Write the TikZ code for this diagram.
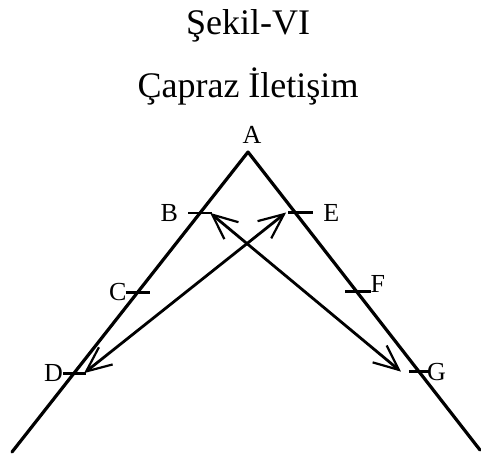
\documentclass[tikz,border=0pt]{standalone}
\usepackage{fontspec}
\setmainfont{Liberation Serif}
\usetikzlibrary{arrows.meta,positioning,calc}
\begin{document}
\begin{tikzpicture}[line cap=round,line join=round,x=1pt,y=-1pt,
		side/.style={line width=3.2pt},
		tick/.style={line width=2.8pt,line cap=butt},
		barb/.tip={Straight Barb[length=25pt,width=22pt,line width=2.2pt]},
		msg/.style={line width=2.8pt,barb-barb},
		lbl/.style={inner sep=0pt,font=\fontsize{26}{28}\selectfont},
		head/.style={inner sep=0pt,anchor=base,font=\fontsize{36}{40}\selectfont}]
		\useasboundingbox (0,0) rectangle (481,455);
		
		\node[head] (title) at (248,34) {Şekil-VI};
		\node[head] (subtitle) at (248,97) {Çapraz İletişim};
		
		\coordinate (A) at (248,152);
		\coordinate (L) at (12,452);
		\coordinate (R) at (480,450);
		\draw[side] (L) -- (A) -- (R);
		
		\coordinate (B) at ($(A)!0.203!(L)$);
		\coordinate (C) at ($(A)!0.467!(L)$);
		\coordinate (D) at ($(A)!0.737!(L)$);
		\coordinate (E) at ($(A)!0.203!(R)$);
		\coordinate (F) at ($(A)!0.467!(R)$);
		\coordinate (G) at ($(A)!0.737!(R)$);
		
		\draw[tick] ([xshift=-12pt]B) -- ([xshift=12pt]B);
		\draw[tick] ([xshift=-12pt]C) -- ([xshift=12pt]C);
		\draw[tick] ([xshift=-11pt]D) -- ([xshift=12pt]D);
		\draw[tick] ([xshift=-7pt]E) -- ([xshift=18pt]E);
		\draw[tick] ([xshift=-11pt]F) -- ([xshift=15pt]F);
		\draw[tick] ([xshift=-10pt]G) -- ([xshift=11pt]G);
		
		\node[lbl,anchor=base] (labA) at (252,143) {A};
		\node[lbl,left=22pt of B] (labB) {B};
		\node[lbl,left=11pt of C] (labC) {C};
		\node[lbl,left=11pt of D] (labD) {D};
		\node[lbl,right=28pt of E] (labE) {E};
		\node[lbl,right=14pt of F,yshift=7pt] (labF) {F};
		\node[lbl,right=8pt of G] (labG) {G};
		
		\draw[msg] ([xshift=10pt]D) -- ([xshift=-9pt]E);
		\draw[msg] ([xshift=10pt]B) -- ([xshift=-18pt]G);
	\end{tikzpicture}
\end{document}
